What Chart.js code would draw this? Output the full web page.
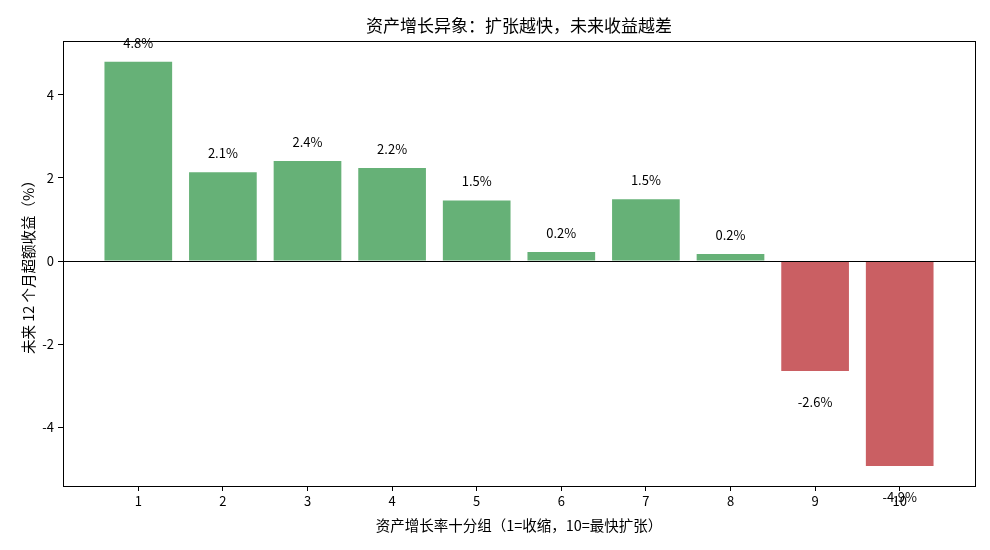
<!DOCTYPE html>
<html>
<head>
<meta charset="utf-8">
<script src="https://cdn.jsdelivr.net/npm/chart.js@4"></script>
<style>
  body { margin: 0; background: #fff; }
  #wrap { width: 990px; height: 550px; }
</style>
</head>
<body>
<div id="wrap"><canvas id="myChart"></canvas></div>
<script>
const deciles = [1, 2, 3, 4, 5, 6, 7, 8, 9, 10];
const excessReturn = [4.8, 2.14, 2.41, 2.24, 1.46, 0.22, 1.49, 0.17, -2.65, -4.94];
const yTicks = [-4, -2, 0, 2, 4];

const titleText = '资产增长异象：扩张越快，未来收益越差';
const xTitle = '资产增长率十分组（1=收缩，10=最快扩张）';
const yTitle = '未来 12 个月超额收益（%）';
const FONT = '"Noto Sans CJK SC", "DejaVu Sans", sans-serif';

const green = 'rgba(85,168,104,0.9)';
const red = 'rgba(196,78,82,0.9)';

const extras = {
  id: 'extras',
  afterDatasetsDraw(chart) {
    const {ctx, chartArea: a, scales: {x, y}} = chart;
    ctx.save();
    // frame
    ctx.strokeStyle = '#000';
    ctx.lineWidth = 1;
    ctx.strokeRect(a.left + 0.5, a.top + 0.5, a.right - a.left, a.bottom - a.top);
    // zero line
    const y0 = Math.round(y.getPixelForValue(0)) + 0.5;
    ctx.beginPath();
    ctx.moveTo(a.left, y0);
    ctx.lineTo(a.right, y0);
    ctx.stroke();
    // value labels
    ctx.fillStyle = '#000';
    ctx.font = '13px ' + FONT;
    ctx.textAlign = 'center';
    deciles.forEach((d, i) => {
      const v = excessReturn[i];
      const px = x.getPixelForValue(d);
      const txt = v.toFixed(1) + '%';
      if (v >= 0) {
        ctx.textBaseline = 'bottom';
        ctx.fillText(txt, px, y.getPixelForValue(v + 0.3));
      } else {
        ctx.textBaseline = 'top';
        ctx.fillText(txt, px, y.getPixelForValue(v - 0.6));
      }
    });
    // titles
    ctx.font = '17px ' + FONT;
    ctx.textBaseline = 'middle';
    ctx.fillText(titleText, (a.left + a.right) / 2, 26);
    ctx.font = '14.5px ' + FONT;
    ctx.fillText(xTitle, (a.left + a.right) / 2, 525);
    ctx.translate(28, (a.top + a.bottom) / 2);
    ctx.rotate(-Math.PI / 2);
    ctx.fillText(yTitle, 0, 0);
    ctx.restore();
  }
};

const ctx = document.getElementById('myChart').getContext('2d');
const myChart = new Chart(ctx, {
  type: 'bar',
  data: {
    datasets: [{
      data: deciles.map((d, i) => ({x: d, y: excessReturn[i]})),
      backgroundColor: excessReturn.map(v => v >= 0 ? green : red),
      barPercentage: 0.8,
      categoryPercentage: 1.0
    }]
  },
  options: {
    responsive: true,
    maintainAspectRatio: false,
    animation: false,
    layout: {padding: {left: 38, top: 41, right: 15, bottom: 39}},
    plugins: {
      legend: {display: false},
      title: {display: false},
      tooltip: {enabled: false}
    },
    scales: {
      x: {
        type: 'linear',
        offset: false,
        min: 0.11,
        max: 10.89,
        afterFit(s) { s.height = 25; },
        afterBuildTicks(s) { s.ticks = deciles.map(v => ({value: v})); },
        grid: {offset: false, drawOnChartArea: false, drawTicks: true, tickLength: 5, tickColor: '#000'},
        border: {display: false},
        ticks: {color: '#000', font: {family: FONT, size: 13}, padding: 2, maxRotation: 0, autoSkip: false}
      },
      y: {
        min: -5.42,
        max: 5.30,
        afterFit(s) { s.width = 25; },
        afterBuildTicks(s) { s.ticks = yTicks.map(v => ({value: v})); },
        grid: {drawOnChartArea: false, drawTicks: true, tickLength: 5, tickColor: '#000'},
        border: {display: false},
        ticks: {color: '#000', font: {family: FONT, size: 13}, padding: 4}
      }
    }
  },
  plugins: [extras]
});
</script>
</body>
</html>
